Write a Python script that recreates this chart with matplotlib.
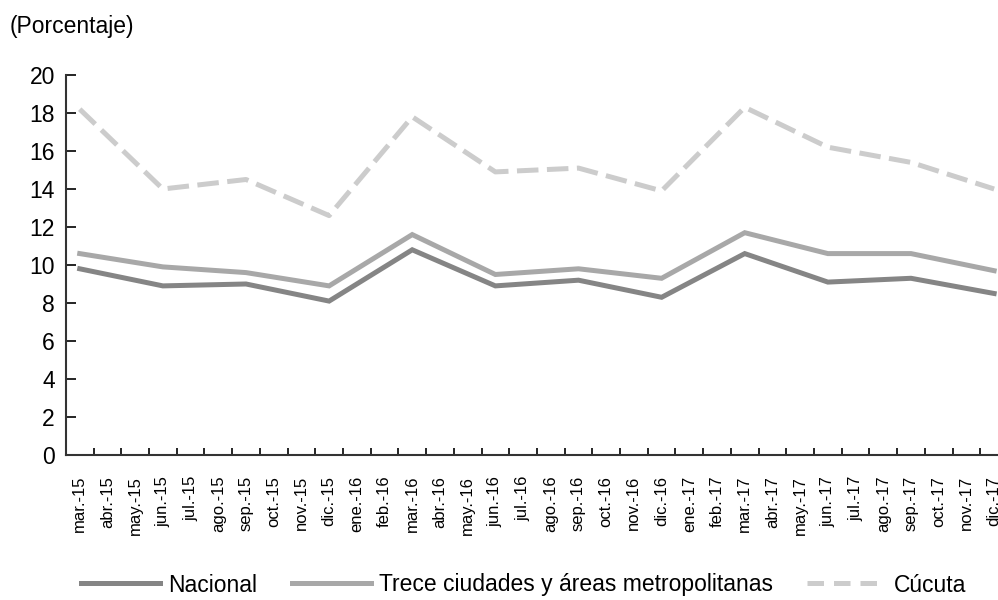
import numpy as np
import matplotlib.pyplot as plt
from matplotlib.lines import Line2D

plt.rcParams['font.family'] = ['Liberation Sans', 'DejaVu Sans']

months = ['mar.', 'abr.', 'may.', 'jun.', 'jul.', 'ago.', 'sep.', 'oct.', 'nov.', 'dic.']
month_labels = [m + '-15' for m in months]
all_months = ['ene.', 'feb.'] + months
month_labels += [m + '-16' for m in all_months]
month_labels += [m + '-17' for m in all_months]

# quarterly observations (mar, jun, sep, dic)
quarters = ['mar.-15', 'jun.-15', 'sep.-15', 'dic.-15',
            'mar.-16', 'jun.-16', 'sep.-16', 'dic.-16',
            'mar.-17', 'jun.-17', 'sep.-17', 'dic.-17']
nacional = [9.8, 8.9, 9.0, 8.1, 10.8, 8.9, 9.2, 8.3, 10.6, 9.1, 9.3, 8.5]
trece = [10.6, 9.9, 9.6, 8.9, 11.6, 9.5, 9.8, 9.3, 11.7, 10.6, 10.6, 9.7]
cucuta = [18.2, 14.0, 14.5, 12.6, 17.8, 14.9, 15.1, 13.9, 18.3, 16.2, 15.4, 14.0]

def main():
	fig = plt.figure(figsize=(9.98, 6), dpi=100)
	ax = fig.add_axes([0.066, 0.2417, 0.944, 0.6333])

	xq = [month_labels.index(q) for q in quarters]
	ax.plot(xq, nacional, color='#858585', lw=3.6, solid_joinstyle='miter')
	ax.plot(xq, trece, color='#a8a8a8', lw=3.6, solid_joinstyle='miter')
	ax.plot(xq, cucuta, color='#cccccc', lw=3.6, dashes=(4.3, 1.7))

	ax.set_xlim(-0.5, len(month_labels) - 0.5)
	ax.set_ylim(0, 20)
	ax.set_yticks(np.arange(0, 21, 2))
	ax.tick_params(axis='y', direction='in', length=7, width=1.2, labelsize=16.5, pad=8)

	ax.set_xticks(np.arange(len(month_labels)))
	ax.set_xticklabels(month_labels, rotation=90, fontsize=12)
	ax.tick_params(axis='x', which='major', length=0, pad=15)
	ax.set_xticks(np.arange(0.5, len(month_labels), 1), minor=True)
	ax.tick_params(axis='x', which='minor', direction='in', length=5, width=1.2)

	for s in ['top', 'right']:
		ax.spines[s].set_visible(False)
	for s in ['left', 'bottom']:
		ax.spines[s].set_color('#333333')
		ax.spines[s].set_linewidth(1.5)

	fig.text(0.01, 0.955, '(Porcentaje)', fontsize=16.5, va='center', ha='left')

	handles = [Line2D([], [], color='#858585', lw=3.6),
	           Line2D([], [], color='#a8a8a8', lw=3.6),
	           Line2D([], [], color='#cccccc', lw=3.6, dashes=(3.3, 2))]
	names = ['Nacional', 'Trece ciudades y áreas metropolitanas', 'Cúcuta']
	fig.legend(handles, names, loc='center', bbox_to_anchor=(0.525, 0.025), ncol=3,
	           frameon=False, fontsize=16.5, handlelength=3.45, columnspacing=1.5,
	           handletextpad=0.35)

	fig.savefig('out.png', dpi=100)

if __name__ == '__main__':
	main()
